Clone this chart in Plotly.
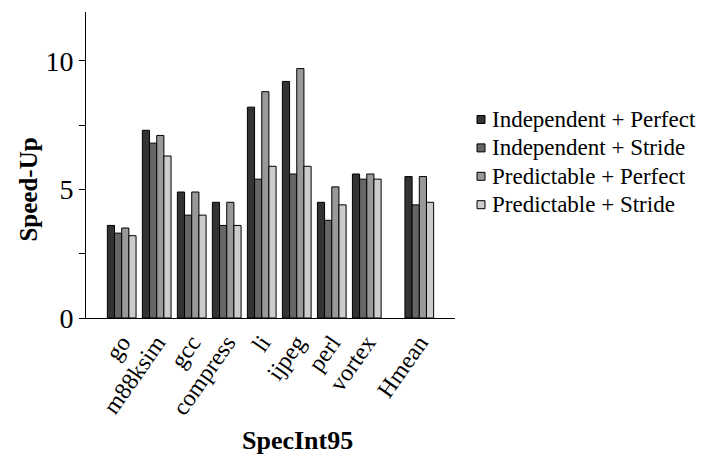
import plotly.graph_objects as go

# SpecInt95 benchmarks (Hmean set apart after a gap)
benchmarks = ["go", "m88ksim", "gcc", "compress", "li", "ijpeg", "perl", "vortex", "Hmean"]
positions = [0, 1, 2, 3, 4, 5, 6, 7, 8.5]

series_names = [
    "Independent + Perfect",
    "Independent + Stride",
    "Predictable + Perfect",
    "Predictable + Stride",
]
indep_perfect = [3.6, 7.3, 4.9, 4.5, 8.2, 9.2, 4.5, 5.6, 5.5]
indep_stride = [3.3, 6.8, 4.0, 3.6, 5.4, 5.6, 3.8, 5.4, 4.4]
pred_perfect = [3.5, 7.1, 4.9, 4.5, 8.8, 9.7, 5.1, 5.6, 5.5]
pred_stride = [3.2, 6.3, 4.0, 3.6, 5.9, 5.9, 4.4, 5.4, 4.5]

series_values = [indep_perfect, indep_stride, pred_perfect, pred_stride]
fills = ["#333333", "#666666", "#999999", "#cccccc"]

FONT = "Liberation Serif, Times New Roman, serif"

W, H = 703, 463
M_L, M_R, M_T, M_B = 86, 248, 12, 145
PLOT_W = W - M_L - M_R
PLOT_H = H - M_T - M_B


def px_to_paper(px, py):
    return (px - M_L) / PLOT_W, (H - M_B - py) / PLOT_H


fig = go.Figure()
for name, vals, col in zip(series_names, series_values, fills):
    fig.add_trace(go.Bar(
        x=positions, y=vals, name=name,
        marker=dict(color=col, line=dict(color="black", width=1)),
        showlegend=False,
    ))

# Hand-laid legend: small square swatch followed by the series name
LEG_SWATCH_X, LEG_TEXT_X, LEG_TOP, LEG_STEP, SW = 481, 490, 119.5, 28.4, 8
shapes, annotations = [], []
for i, (name, col) in enumerate(zip(series_names, fills)):
    cy = LEG_TOP + i * LEG_STEP
    x0, y0 = px_to_paper(LEG_SWATCH_X - SW / 2, cy + SW / 2)
    x1, y1 = px_to_paper(LEG_SWATCH_X + SW / 2, cy - SW / 2)
    shapes.append(dict(type="rect", xref="paper", yref="paper",
                       x0=x0, y0=y0, x1=x1, y1=y1,
                       fillcolor=col, line=dict(color="black", width=1)))
    tx, ty = px_to_paper(LEG_TEXT_X, cy)
    annotations.append(dict(text=name, xref="paper", yref="paper", x=tx, y=ty,
                            xanchor="left", yanchor="middle", showarrow=False,
                            font=dict(family=FONT, size=23, color="black")))

annotations += [
    dict(text="<b>SpecInt95</b>", xref="paper", yref="paper",
         x=0.572, y=-0.40, yanchor="middle", xanchor="center", showarrow=False,
         font=dict(family=FONT, size=26, color="black")),
    dict(text="<b>Speed-Up</b>", xref="paper", yref="paper",
         x=-0.157, y=0.42, xanchor="center", yanchor="middle", textangle=-90,
         showarrow=False, font=dict(family=FONT, size=25, color="black")),
]

fig.update_layout(
    width=W, height=H,
    paper_bgcolor="white", plot_bgcolor="white",
    margin=dict(l=M_L, r=M_R, t=M_T, b=M_B, autoexpand=False),
    barmode="group", bargap=0.18, bargroupgap=0,
    font=dict(family=FONT, color="black"),
    showlegend=False,
    xaxis=dict(
        range=[-1.02, 9.52],
        tickmode="array", tickvals=positions, ticktext=benchmarks,
        tickangle=-55, tickfont=dict(family=FONT, size=24, color="black"),
        showline=True, linecolor="black", linewidth=1,
        ticks="", showgrid=False, zeroline=False,
    ),
    yaxis=dict(
        range=[0, 11.9],
        tickvals=[0, 5, 10], ticks="outside", ticklen=6, tickcolor="black",
        tickfont=dict(family=FONT, size=28, color="black"),
        minor=dict(tickvals=[2.5, 7.5], ticks="outside", ticklen=6, tickcolor="black"),
        showline=True, linecolor="black", linewidth=1,
        showgrid=False, zeroline=False,
    ),
    shapes=shapes,
    annotations=annotations,
)

fig.write_html("out.html")
